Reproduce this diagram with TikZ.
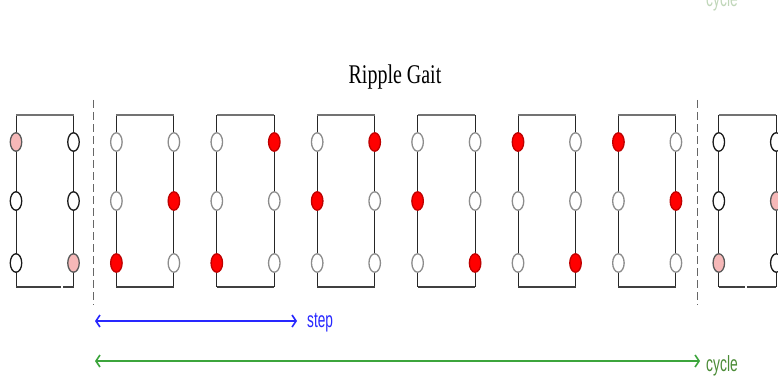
\documentclass[tikz,border=0pt]{standalone}
\usepackage{fontspec}
\usepackage{graphicx}
\setmainfont{Liberation Serif}
\setsansfont{Liberation Sans}
\usetikzlibrary{shapes.geometric,arrows.meta}

\definecolor{legred}{RGB}{255,0,0}
\definecolor{legredline}{RGB}{190,0,0}
\definecolor{legpink}{RGB}{246,184,184}
\definecolor{steptint}{RGB}{40,40,255}
\definecolor{cycletint}{RGB}{60,165,60}
\definecolor{cycletext}{RGB}{75,140,55}

\tikzset{
  leg/.style={ellipse, minimum width=11.5pt, minimum height=18.5pt, inner sep=0pt, line width=1.3pt},
  legw/.style={leg, draw=black!45, fill=white},
  legk/.style={leg, draw=black!90, fill=white},
  legr/.style={leg, draw=legredline, fill=legred},
  legp/.style={leg, draw=black!65, fill=legpink},
  side/.style={line width=1pt, black!85},
  topedge/.style={line width=2.4pt, black!55},
  botedge/.style={line width=1.6pt, black!75},
  cyclemark/.style={dash pattern=on 8pt off 4pt, line width=1.6pt, black!60},
  span/.style={line width=1.6pt, {Straight Barb[length=4pt,width=12pt]}-{Straight Barb[length=4pt,width=12pt]}},
  sanslabel/.style={inner sep=0pt, anchor=base west, font=\sffamily\fontsize{22}{22}\selectfont},
}

\begin{document}
\begin{tikzpicture}[x=1pt,y=-1pt]
\useasboundingbox (0,0) rectangle (778,377);
\clip (0,0) rectangle (778,377);
\fill[white] (0,0) rectangle (778,377);

% title
\node[inner sep=0pt, anchor=base, font=\fontsize{27}{27}\selectfont] (title) at (395,84)
  {\scalebox{0.74}[1]{Ripple Gait}};

% robot bodies: leg states L1 L2 L3 R1 R2 R3
\foreach \i/\a/\b/\c/\d/\e/\f in {
    0/p/k/k/k/k/p, 1/w/w/r/w/r/w, 2/w/w/r/r/w/w, 3/w/r/w/r/w/w,
    4/w/r/w/w/w/r, 5/r/w/w/w/w/r, 6/r/w/w/w/r/w, 7/k/k/p/k/p/k} {
  \pgfmathsetmacro\xl{16+100.4*\i}
  \pgfmathsetmacro\xr{\xl+57.5}
  \coordinate (b\i-tl) at (\xl,115);
  \coordinate (b\i-tr) at (\xr,115);
  \coordinate (b\i-bl) at (\xl,287);
  \coordinate (b\i-br) at (\xr,287);
  \draw[side] (b\i-tl) -- (b\i-bl);
  \draw[side] (b\i-tr) -- (b\i-br);
  \draw[topedge] (b\i-tl) -- (b\i-tr);
  \draw[botedge] (b\i-bl) -- (b\i-br);
  \node[leg\a] (b\i-L1) at (\xl,142) {};
  \node[leg\b] (b\i-L2) at (\xl,201) {};
  \node[leg\c] (b\i-L3) at (\xl,263) {};
  \node[leg\d] (b\i-R1) at (\xr,142) {};
  \node[leg\e] (b\i-R2) at (\xr,201) {};
  \node[leg\f] (b\i-R3) at (\xr,263) {};
}

% small breaks in the outer bodies' lower edges
\fill[white] (61,285) rectangle (63,289);
\fill[white] (745,285) rectangle (747,289);

% cycle boundaries
\coordinate (c0top) at (93.5,100);
\coordinate (c0bot) at (93.5,305);
\coordinate (c1top) at (697.5,100);
\coordinate (c1bot) at (697.5,305);
\draw[cyclemark] (c0top) -- (c0bot);
\draw[cyclemark] (c1top) -- (c1bot);

% step span
\coordinate (stepL) at (95,321);
\coordinate (stepR) at (297,321);
\node[sanslabel, text=steptint] (steplbl) at (307,327) {\scalebox{0.62}[1]{step}};
\draw[span, steptint] (stepL) -- (stepR);

% cycle span
\coordinate (cycleL) at (95,361);
\coordinate (cycleR) at (700,361);
\node[sanslabel, text=cycletext] (cyclelbl) at (706,371) {\scalebox{0.63}[1]{cycle}};
\draw[span, cycletint] (cycleL) -- (cycleR);

% the cycle span of the row above, running off the top edge
\begin{scope}[opacity=0.35]
\coordinate (cycleLup) at (95,-7);
\coordinate (cycleRup) at (700,-7);
\node[sanslabel, text=cycletext] (cyclelblup) at (706,7) {\scalebox{0.63}[1]{cycle}};
\draw[span, cycletint] (cycleLup) -- (cycleRup);
\end{scope}
\end{tikzpicture}
\end{document}
